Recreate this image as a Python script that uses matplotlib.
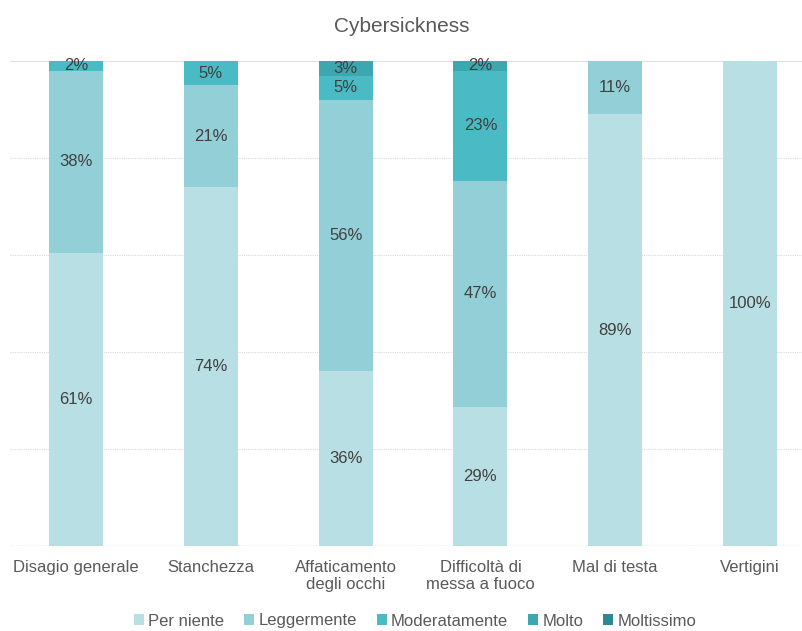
import numpy as np
import matplotlib.pyplot as plt

plt.rcParams['font.family'] = ['Liberation Sans', 'DejaVu Sans']

categories = ['Disagio generale', 'Stanchezza', 'Affaticamento\ndegli occhi',
              'Difficoltà di\nmessa a fuoco', 'Mal di testa', 'Vertigini']
series = ['Per niente', 'Leggermente', 'Moderatamente', 'Molto', 'Moltissimo']
per_niente = [61, 74, 36, 29, 89, 100]
leggermente = [38, 21, 56, 47, 11, 0]
moderatamente = [2, 5, 5, 23, 0, 0]
molto = [0, 0, 3, 2, 0, 0]
moltissimo = [0, 0, 0, 0, 0, 0]
colors = ['#B8DFE3', '#92CFD6', '#4ABBC5', '#3DA7B0', '#2C8A92']

data = np.array([per_niente, leggermente, moderatamente, molto, moltissimo], dtype=float)
totals = data.sum(axis=0)
shares = data / totals * 100

fig = plt.figure(figsize=(8.03, 6.31), dpi=100)
ax = fig.add_axes([10/803, (631-546)/631, 793/803, 485/631])

x = np.arange(len(categories))
bottom = np.zeros(len(categories))
for i, name in enumerate(series):
    ax.bar(x, shares[i], 0.40, bottom=bottom, color=colors[i], label=name, zorder=2)
    for j in range(len(categories)):
        if data[i, j] > 0:
            ax.text(x[j], bottom[j] + shares[i, j] / 2, f'{int(data[i, j])}%',
                    ha='center', va='center', fontsize=12, color='#404040', zorder=3)
    bottom += shares[i]

ax.set_xlim(-0.49, 5.393)
ax.set_ylim(0, 100)
ax.set_yticks([])
for y in [20, 40, 60, 80]:
    ax.axhline(y, color='#D9D9D9', lw=0.8, ls=(0, (1, 1)), zorder=1)
ax.axhline(100, color='#D9D9D9', lw=1.2, zorder=1)
ax.axhline(0, color='#BFBFBF', lw=1, ls=(0, (1, 1)), zorder=4)
for s in ax.spines.values():
    s.set_visible(False)
ax.set_xticks(x)
ax.set_xticklabels(categories, fontsize=12, color='#595959', linespacing=1.15)
ax.tick_params(axis='x', length=0, pad=10)

fig.text(0.5, 1 - 26/631, 'Cybersickness', ha='center', va='center', fontsize=15, color='#595959')
fig.legend(loc='center', bbox_to_anchor=(0.517, 1 - 621/631), ncol=5, frameon=False,
           fontsize=12, labelcolor='#595959', handlelength=0.6, handleheight=0.6,
           handletextpad=0.25, columnspacing=1.2)

plt.savefig('out.png', dpi=100)
